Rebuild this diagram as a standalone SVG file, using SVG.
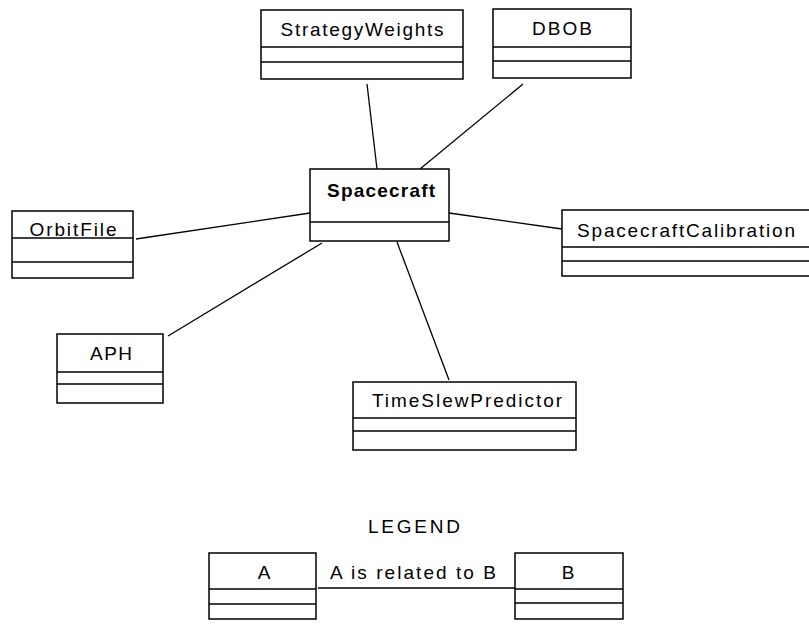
<svg xmlns="http://www.w3.org/2000/svg" width="809" height="624" viewBox="0 0 809 624">
  <style>
    .box { fill: #fff; stroke: #000; stroke-width: 1.5; }
    .div { stroke: #000; stroke-width: 1.7; }
    .lbl { font-family: "Liberation Sans", Arial, sans-serif; font-size: 19px; fill: #000; text-anchor: middle; }
    .link { stroke: #000; stroke-width: 1.3; fill: none; }
  </style>
  <rect width="809" height="624" fill="#fff"/>

  <!-- associations -->
  <g id="connectors">
    <line class="link" x1="367" y1="84" x2="377" y2="169"/>
    <line class="link" x1="523" y1="84" x2="420" y2="169"/>
    <line class="link" x1="136" y1="239" x2="310" y2="213"/>
    <line class="link" x1="449" y1="213" x2="562" y2="229"/>
    <line class="link" x1="168" y1="336" x2="322" y2="243"/>
    <line class="link" x1="397" y1="242" x2="449" y2="380"/>
    <line class="link" x1="318" y1="588" x2="515" y2="588"/>
  </g>

  <g id="StrategyWeights">
    <rect class="box" x="261" y="10" width="202" height="69"/>
    <line class="div" x1="261" y1="47" x2="463" y2="47"/>
    <line class="div" x1="261" y1="62" x2="463" y2="62"/>
    <text class="lbl" x="362" y="36" textLength="163" lengthAdjust="spacing">StrategyWeights</text>
  </g>

  <g id="DBOB">
    <rect class="box" x="493" y="9" width="138" height="69"/>
    <line class="div" x1="493" y1="47" x2="631" y2="47"/>
    <line class="div" x1="493" y1="61" x2="631" y2="61"/>
    <text class="lbl" x="562" y="35" textLength="60" lengthAdjust="spacing">DBOB</text>
  </g>

  <g id="Spacecraft">
    <rect class="box" x="310" y="169" width="139" height="72"/>
    <line class="div" x1="310" y1="222" x2="449" y2="222"/>
    <text class="lbl" x="381" y="197" font-weight="bold" textLength="108" lengthAdjust="spacing">Spacecraft</text>
  </g>

  <g id="OrbitFile">
    <rect class="box" x="12" y="211" width="121" height="67"/>
    <line class="div" x1="12" y1="238" x2="133" y2="238"/>
    <line class="div" x1="12" y1="262" x2="133" y2="262"/>
    <text class="lbl" x="73" y="236" textLength="87" lengthAdjust="spacing">OrbitFile</text>
  </g>

  <g id="SpacecraftCalibration">
    <rect class="box" x="562" y="210" width="252" height="66"/>
    <line class="div" x1="562" y1="247" x2="809" y2="247"/>
    <line class="div" x1="562" y1="261" x2="809" y2="261"/>
    <text class="lbl" x="686" y="237" textLength="218" lengthAdjust="spacing">SpacecraftCalibration</text>
  </g>

  <g id="APH">
    <rect class="box" x="57" y="334" width="106" height="69"/>
    <line class="div" x1="57" y1="372" x2="163" y2="372"/>
    <line class="div" x1="57" y1="384" x2="163" y2="384"/>
    <text class="lbl" x="111" y="360" textLength="42" lengthAdjust="spacing">APH</text>
  </g>

  <g id="TimeSlewPredictor">
    <rect class="box" x="353" y="382" width="223" height="68"/>
    <line class="div" x1="353" y1="418" x2="576" y2="418"/>
    <line class="div" x1="353" y1="431" x2="576" y2="431"/>
    <text class="lbl" x="467" y="407" textLength="190" lengthAdjust="spacing">TimeSlewPredictor</text>
  </g>

  <!-- key -->
  <g id="legend">
    <text class="lbl" x="414" y="533" textLength="92" lengthAdjust="spacing">LEGEND</text>
    <text class="lbl" x="413" y="579" textLength="166" lengthAdjust="spacing">A is related to B</text>
  </g>

  <g id="A">
    <rect class="box" x="209" y="553" width="107" height="66"/>
    <line class="div" x1="209" y1="589" x2="316" y2="589"/>
    <line class="div" x1="209" y1="604" x2="316" y2="604"/>
    <text class="lbl" x="264" y="579">A</text>
  </g>

  <g id="B">
    <rect class="box" x="515" y="553" width="108" height="66"/>
    <line class="div" x1="515" y1="589" x2="623" y2="589"/>
    <line class="div" x1="515" y1="603" x2="623" y2="603"/>
    <text class="lbl" x="568" y="579">B</text>
  </g>
</svg>
